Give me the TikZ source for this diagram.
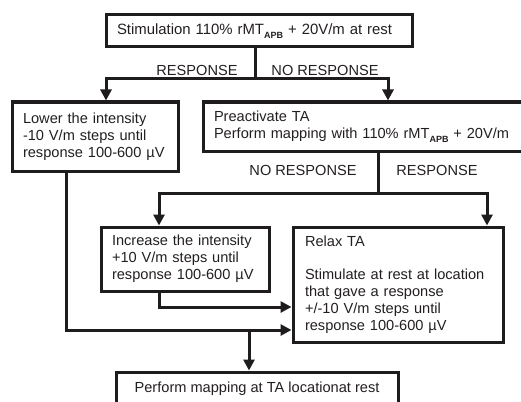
\documentclass[tikz,border=0pt]{standalone}
\usepackage{fontspec}
\setmainfont{Liberation Sans}
\usetikzlibrary{arrows.meta,calc}
\definecolor{textc}{RGB}{35,31,32}
\definecolor{linec}{RGB}{30,28,28}
\newcommand{\apbsub}{\raisebox{-4pt}{\fontsize{9}{9}\selectfont\bfseries APB}}
\begin{document}
\begin{tikzpicture}[x=1pt,y=-1pt,
  box/.style={draw=linec, line width=3pt, rectangle, inner sep=0pt,
    font=\fontsize{14.6}{17}\selectfont, text=textc},
  conn/.style={line width=3pt, draw=linec},
  arr/.style={conn, -{Triangle[width=11pt,length=11pt]}},
  lab/.style={font=\fontsize{14.6}{17}\selectfont, text=textc, inner sep=0pt}]
\useasboundingbox (0,0) rectangle (521,401);
\clip (0,0) rectangle (521,401);
% boxes
\node[box, minimum width=306, minimum height=32, text width=284, align=left,
  font=\fontsize{14.9}{17}\selectfont] (top) at (259,31)
  {\mbox{Stimulation 110\% rMT\apbsub{} + 20V/m at rest}};
\node[box, minimum width=166, minimum height=69, text width=144, align=left] (lbox) at (95,136.5)
  {\mbox{Lower the intensity}\\\mbox{-10 V/m steps until}\\\mbox{response 100-600 µV}};
\node[box, minimum width=320, minimum height=49, text width=298, align=left] (rbox) at (363,126.5)
  {\mbox{Preactivate TA}\\\mbox{Perform mapping with 110\% rMT\apbsub{} + 20V/m}};
\node[box, minimum width=168, minimum height=64, text width=146, align=left] (mbox) at (185,259)
  {\mbox{Increase the intensity}\\\mbox{+10 V/m steps until}\\\mbox{response 100-600 µV}};
\node[box, minimum width=210, minimum height=115, text width=186, align=left] (rlbox) at (398,284.5)
  {\mbox{Relax TA}\\[16pt]\mbox{Stimulate at rest at location}\\\mbox{that gave a response}\\\mbox{+/-10 V/m steps until}\\\mbox{response 100-600 µV}};
\node[box, minimum width=282, minimum height=34] (bot) at (257,389)
  {Perform mapping at TA locationat rest};
% labels
\node[lab] (l1) at (197,70) {RESPONSE};
\node[lab] (l2) at (325,70) {NO RESPONSE};
\node[lab] (l3) at (303,170) {NO RESPONSE};
\node[lab] (l4) at (437,170) {RESPONSE};
% junctions
\coordinate (j1) at (255,79);
\coordinate (j2) at (378,193);
\coordinate (j3) at (249,330);
\coordinate (j4) at (159,307);
% connectors
\draw[conn] (top.south -| j1) -- (j1);
\draw[arr] (j1) -| ([xshift=11]lbox.north);
\draw[arr] (j1) -| ([xshift=25]rbox.north);
\draw[conn] (rbox.south -| j2) -- (j2);
\draw[arr] (j2) -| ([xshift=-26]mbox.north);
\draw[arr] (j2) -| ([xshift=89]rlbox.north);
\draw[arr] ([xshift=-29]lbox.south) |- (rlbox.west |- j3);
\draw[arr] ([xshift=-26]mbox.south) |- (rlbox.west |- j4);
\draw[arr] (j3) -- (bot.north -| j3);
\end{tikzpicture}
\end{document}
